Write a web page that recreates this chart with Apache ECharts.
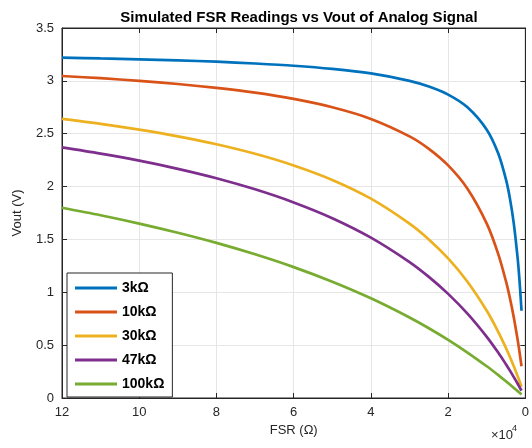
<!DOCTYPE html>
<html><head><meta charset="utf-8">
<script src="https://cdn.jsdelivr.net/npm/echarts@6/dist/echarts.min.js"></script>
<style>html,body{margin:0;padding:0;background:#fff}#c{width:532px;height:448px}</style>
</head><body><div id="c"></div>
<script>
const fsr = [120000,110000,100000,90000,80000,70000,60000,50000,40000,30000,25000,20000,15000,10000,7000,5000,4000,3000,2000,1500,1000];
const seriesNames = ['3kΩ','10kΩ','30kΩ','47kΩ','100kΩ'];
const v3k   = [3.220,3.212,3.204,3.194,3.181,3.164,3.143,3.113,3.070,3.000,2.946,2.870,2.750,2.538,2.310,2.063,1.886,1.650,1.320,1.100,0.825];
const v10k  = [3.046,3.025,3.000,2.970,2.933,2.888,2.829,2.750,2.640,2.475,2.357,2.200,1.980,1.650,1.359,1.100,0.943,0.762,0.550,0.430,0.300];
const v30k  = [2.640,2.593,2.538,2.475,2.400,2.310,2.200,2.063,1.886,1.650,1.500,1.320,1.100,0.825,0.624,0.471,0.388,0.300,0.206,0.157,0.106];
const v47k  = [2.371,2.312,2.245,2.168,2.079,1.974,1.850,1.701,1.517,1.286,1.146,0.985,0.798,0.579,0.428,0.317,0.259,0.198,0.135,0.102,0.069];
const v100k = [1.800,1.729,1.650,1.563,1.467,1.359,1.238,1.100,0.943,0.762,0.660,0.550,0.430,0.300,0.216,0.157,0.127,0.096,0.065,0.049,0.033];
const allValues = [v3k, v10k, v30k, v47k, v100k];
const colors = ['#0072BD','#D95319','#EDB120','#7E2F8E','#77AC30'];

const chart = echarts.init(document.getElementById('c'));
const axisTextColor = '#262626';
const font = 'Liberation Sans, Arial';
const tick = {inside: true, length: 5, lineStyle: {color: '#262626'}};
chart.setOption({
  animation: false,
  title: {
    text: 'Simulated FSR Readings vs Vout of Analog Signal',
    left: 294, top: 5, textAlign: 'center',
    textStyle: {fontFamily: font, fontSize: 15, fontWeight: 'bold', color: '#000'}
  },
  grid: {left: 62, right: 6, top: 28, bottom: 50, show: true, borderColor: '#262626', borderWidth: 1},
  xAxis: [{
    type: 'value', inverse: true, min: 0, max: 120000, interval: 20000,
    name: 'FSR (Ω)', nameLocation: 'middle', nameGap: 24,
    nameTextStyle: {fontFamily: font, fontSize: 13, color: axisTextColor},
    axisLine: {show: true, onZero: false, lineStyle: {color: '#262626'}},
    axisTick: tick,
    axisLabel: {formatter: v => String(v / 10000), fontFamily: font, fontSize: 13, color: axisTextColor, margin: 8},
    splitLine: {show: true, lineStyle: {color: '#e6e6e6'}}
  }, {
    type: 'value', position: 'top', inverse: true, min: 0, max: 120000, interval: 20000,
    axisLine: {show: true, onZero: false, lineStyle: {color: '#262626'}},
    axisTick: tick, axisLabel: {show: false}, splitLine: {show: false}
  }],
  yAxis: [{
    type: 'value', position: 'left', min: 0, max: 3.5, interval: 0.5,
    name: 'Vout (V)', nameLocation: 'middle', nameGap: 38,
    nameTextStyle: {fontFamily: font, fontSize: 13, color: axisTextColor},
    axisLine: {show: true, onZero: false, lineStyle: {color: '#262626'}},
    axisTick: tick,
    axisLabel: {fontFamily: font, fontSize: 13, color: axisTextColor, margin: 8},
    splitLine: {show: true, lineStyle: {color: '#e6e6e6'}}
  }, {
    type: 'value', position: 'right', min: 0, max: 3.5, interval: 0.5,
    axisLine: {show: true, onZero: false, lineStyle: {color: '#262626'}},
    axisTick: tick, axisLabel: {show: false}, splitLine: {show: false}
  }],
  legend: {
    orient: 'vertical', left: 67, top: 273,
    data: seriesNames,
    icon: 'rect', itemWidth: 42, itemHeight: 3, itemGap: 10,
    padding: [8, 8, 6, 8],
    backgroundColor: '#fff', borderColor: '#262626', borderWidth: 1, borderRadius: 0,
    textStyle: {fontFamily: font, fontSize: 14, fontWeight: 'bold', color: '#000'}
  },
  graphic: [{
    type: 'text', left: 491, top: 429,
    style: {text: '×10', font: '13px Liberation Sans, Arial', fill: axisTextColor}
  }, {
    type: 'text', left: 512, top: 424,
    style: {text: '4', font: '9px Liberation Sans, Arial', fill: axisTextColor}
  }],
  series: allValues.map((vals, i) => ({
    type: 'line', name: seriesNames[i], smooth: 0.3, showSymbol: false,
    data: fsr.map((x, j) => [x, vals[j]]),
    lineStyle: {width: 2.7, color: colors[i]}, itemStyle: {color: colors[i]}
  }))
});
</script>
</body></html>
